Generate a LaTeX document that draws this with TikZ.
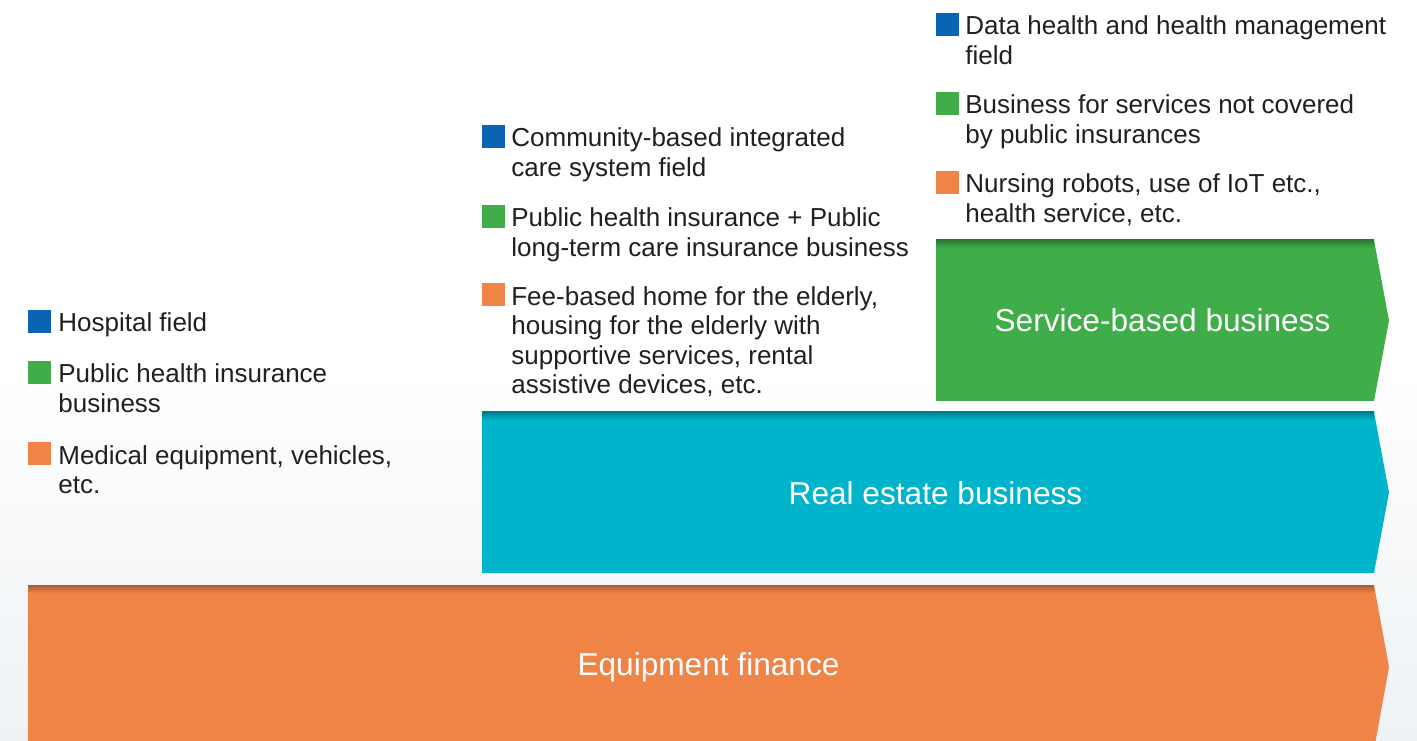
\documentclass[tikz,border=0pt]{standalone}
\usepackage{fontspec}
\setmainfont{Liberation Sans}

\definecolor{fieldblue}{HTML}{0A64B4}
\definecolor{bizgreen}{HTML}{3FAE49}
\definecolor{equiporange}{HTML}{F08446}
\definecolor{estatecyan}{HTML}{00B4CB}
\definecolor{legendtext}{HTML}{231F20}
\definecolor{paper}{HTML}{EEF2F5}

\begin{document}
\begin{tikzpicture}[
    layer/.style={font=\fontsize{18}{21}\selectfont, text=white, anchor=base, inner sep=0},
    marker/.style={rectangle, minimum size=0.46cm, inner sep=0, anchor=south west},
    item/.style={anchor=base west, align=left, inner sep=0, text=legendtext, font=\fontsize{14.8}{0.59cm}\selectfont},
    edge/.style={top color=#1!70!black, bottom color=#1}
]

\useasboundingbox (0,0) rectangle (28.34,14.8);
\shade[top color=white, bottom color=paper, middle color=white] (0,0) rectangle (28.34,14.8);

% layers
\fill[equiporange] (0.56,-0.2) -- (27.48,-0.2) -- (27.78,1.46) -- (27.48,3.1) -- (0.56,3.1) -- cycle;
\shade[edge=equiporange] (0.56,2.94) rectangle (27.48,3.1);
\fill[estatecyan] (9.64,3.34) -- (27.48,3.34) -- (27.78,4.95) -- (27.48,6.56) -- (9.64,6.56) -- cycle;
\shade[edge=estatecyan] (9.64,6.40) rectangle (27.48,6.56);
\fill[bizgreen] (18.72,6.78) -- (27.48,6.78) -- (27.78,8.39) -- (27.48,10.0) -- (18.72,10.0) -- cycle;
\shade[edge=bizgreen] (18.72,9.84) rectangle (27.48,10.0);

\node[layer] (equip) at (14.17,1.30) {Equipment finance};
\node[layer] (estate) at (18.71,4.71) {Real estate business};
\node[layer] (service) at (23.25,8.17) {Service-based business};

% left legend (base = last line)
\node[marker, fill=fieldblue] (hospsq) at (0.56,8.14) {};
\node[item] (hosp) at (1.16,8.16) {Hospital field};
\node[marker, fill=bizgreen] (pubsq) at (0.56,7.12) {};
\node[item] (pub) at (1.16,6.55) {Public health insurance\\business};
\node[marker, fill=equiporange] (medsq) at (0.56,5.50) {};
\node[item] (med) at (1.16,4.93) {Medical equipment, vehicles,\\etc.};

% middle legend
\node[marker, fill=fieldblue] (commsq) at (9.64,11.84) {};
\node[item] (comm) at (10.22,11.27) {Community-based integrated\\care system field};
\node[marker, fill=bizgreen] (ltcsq) at (9.64,10.24) {};
\node[item] (ltc) at (10.22,9.67) {Public health insurance + Public\\long-term care insurance business};
\node[marker, fill=equiporange] (homesq) at (9.64,8.68) {};
\node[item] (home) at (10.22,6.93) {Fee-based home for the elderly,\\housing for the elderly with\\supportive services, rental\\assistive devices, etc.};

% right legend
\node[marker, fill=fieldblue] (datasq) at (18.72,14.08) {};
\node[item] (data) at (19.30,13.51) {Data health and health management\\field};
\node[marker, fill=bizgreen] (servsq) at (18.72,12.50) {};
\node[item] (serv) at (19.30,11.93) {Business for services not covered\\by public insurances};
\node[marker, fill=equiporange] (robsq) at (18.72,10.92) {};
\node[item] (rob) at (19.30,10.35) {Nursing robots, use of IoT etc.,\\health service, etc.};

\end{tikzpicture}
\end{document}
